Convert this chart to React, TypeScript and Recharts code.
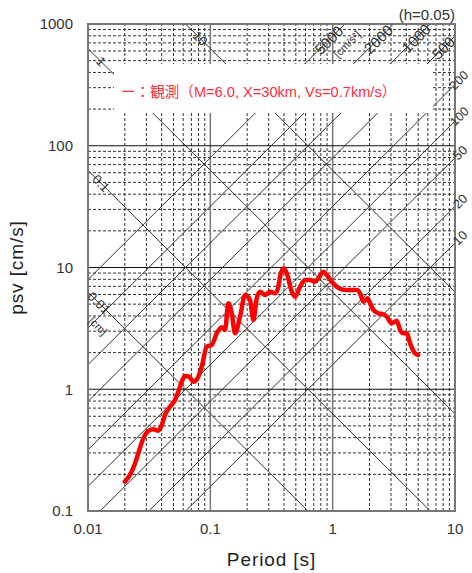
import React from 'react';
import {
  LineChart, Line, XAxis, YAxis, ReferenceLine, ReferenceArea, ReferenceDot
} from 'recharts';

// 観測スペクトル (h=0.05)
const periods = [
  0.02, 0.02205, 0.02423, 0.02578, 0.02833, 0.03112, 0.0342, 0.03757, 0.04005, 0.04262,
  0.04683, 0.05145, 0.05474, 0.05836, 0.06211, 0.06696, 0.07261, 0.07978, 0.08505, 0.09345,
  0.1027, 0.1128, 0.124, 0.1319, 0.1403, 0.1496, 0.1592, 0.1749, 0.1922, 0.2112,
  0.2247, 0.2396, 0.255, 0.2801, 0.3077, 0.3381, 0.3597, 0.3715, 0.3953, 0.4215,
  0.463, 0.4927, 0.5413, 0.5948, 0.6535, 0.7179, 0.764, 0.8395, 0.8952, 0.983,
  1.08, 1.187, 1.304, 1.433, 1.574, 1.675, 1.782, 1.922, 2.022, 2.152,
  2.364, 2.598, 2.77, 3.042, 3.343, 3.557, 3.785, 4.036, 4.295, 4.718, 5.0
];
const psv = [
  0.174, 0.198, 0.246, 0.298, 0.395, 0.454, 0.469, 0.457, 0.508, 0.615,
  0.719, 0.817, 0.955, 1.153, 1.285, 1.268, 1.153, 1.268, 1.531, 2.236,
  2.31, 2.88, 3.23, 3.07, 5.08, 4.21, 2.88, 3.94, 5.94, 5.41,
  3.7, 5.59, 6.33, 5.94, 6.33, 6.14, 6.95, 8.4, 9.85, 8.96,
  6.33, 5.75, 6.95, 7.89, 7.89, 7.64, 8.15, 9.24, 8.68, 7.64,
  6.95, 6.62, 6.53, 6.53, 6.53, 6.14, 5.24, 5.59, 5.08, 4.48,
  4.21, 4.13, 3.94, 3.48, 3.66, 3.07, 2.88, 2.88, 2.38, 1.97, 1.91
];

const xTicks = [0.01, 0.1, 1, 10];
const yTicks = [0.1, 1, 10, 100, 1000];
const minorSteps = [2, 3, 4, 5, 6, 7, 8, 9];

// 変位 [cm] と 加速度 [cm/s2] の斜線
const dispLines = [0.01, 0.1, 1, 10];
const dispLabels = ['0.01', '0.1', '1', '10'];
const dispLabelT = [0.0123, 0.01277, 0.01277, 0.0825];
const accLines = [10, 20, 50, 100, 200, 500, 1000, 2000, 5000];
const accLabels = ['10', '20', '50', '100', '200', '500', '1000', '2000', '5000'];
const accLabelT = [11.0, 11.0, 11.0, 10.9, 10.8, 8.0, 4.8, 2.36, 0.93];
const accLabelSize = [13, 13, 13, 12.5, 12.5, 15, 15, 15, 15];

const legendText = 'ー：観測（M=6.0, X=30km, Vs=0.7km/s）';

const TMIN = 0.01, TMAX = 10, VMIN = 0.1, VMAX = 1000;
const TWO_PI = 2 * Math.PI;

const data = periods.map((T, i) => ({ T, psv: psv[i] }));

const xMinor = [0.01, 0.1, 1].flatMap(d => minorSteps.map(m => +(m * d).toPrecision(3)));
const yMinor = [0.1, 1, 10, 100].flatMap(d => minorSteps.map(m => +(m * d).toPrecision(3)));

// Sv = Sa*T/2π
const accSegment = (sa: number) => {
  const k = sa / TWO_PI;
  const t1 = Math.max(TMIN, VMIN / k);
  const t2 = Math.min(TMAX, VMAX / k);
  return [{ x: t1, y: k * t1 }, { x: t2, y: k * t2 }];
};
// Sv = 2πD/T
const dispSegment = (d: number) => {
  const c = TWO_PI * d;
  const t1 = Math.max(TMIN, c / VMAX);
  const t2 = Math.min(TMAX, c / VMIN);
  return [{ x: t1, y: c / t1 }, { x: t2, y: c / t2 }];
};

const textShape = (txt: string, angle: number, size: number, anchor = 'middle', color = '#333') =>
  (p: any) => (
    <text
      x={p.cx}
      y={p.cy}
      transform={angle ? `rotate(${angle} ${p.cx} ${p.cy})` : undefined}
      textAnchor={anchor}
      dominantBaseline="central"
      fontSize={size}
      fill={color}
    >
      {txt}
    </text>
  );

const font = '"Liberation Sans", Arial, "Noto Sans CJK JP", sans-serif';

export default function App() {
  return (
    <div style={{ width: 472, height: 573, background: '#fff' }}>
      <style>{'body{margin:0;background:#fff}'}</style>
      <LineChart
        width={472}
        height={573}
        data={data}
        margin={{ top: 24, right: 17, bottom: 0, left: 0 }}
        style={{ fontFamily: font }}
      >
        <XAxis
          dataKey="T"
          type="number"
          scale="log"
          domain={[TMIN, TMAX]}
          ticks={xTicks}
          allowDataOverflow
          axisLine={false}
          tickLine={false}
          tickSize={6}
          tickMargin={6}
          height={62}
          tick={{ fill: '#333', fontSize: 15 }}
          label={{ value: 'Period [s]', position: 'insideBottom', offset: 7, fill: '#222', fontSize: 19, letterSpacing: '0.9px' }}
        />
        <YAxis
          type="number"
          scale="log"
          domain={[VMIN, VMAX]}
          ticks={yTicks}
          allowDataOverflow
          axisLine={false}
          tickLine={false}
          tickSize={6}
          tickMargin={9}
          width={88}
          tick={{ fill: '#333', fontSize: 15 }}
          label={{ value: 'psv [cm/s]', angle: -90, position: 'insideLeft', offset: 16, fill: '#222', fontSize: 19, letterSpacing: '0.9px', style: { textAnchor: 'middle' } }}
        />

        {/* 補助目盛 */}
        {xMinor.map(v => (
          <ReferenceLine key={`xm${v}`} x={v} stroke="#333" strokeDasharray="3 2" strokeWidth={1} ifOverflow="visible" zIndex={100} />
        ))}
        {yMinor.map(v => (
          <ReferenceLine key={`ym${v}`} y={v} stroke="#333" strokeDasharray="3 2" strokeWidth={1} ifOverflow="visible" zIndex={100} />
        ))}
        {[0.1, 1].map(v => (
          <ReferenceLine key={`xd${v}`} x={v} stroke="#777" strokeWidth={1.5} ifOverflow="visible" zIndex={100} />
        ))}
        {[1, 10, 100].map(v => (
          <ReferenceLine key={`yd${v}`} y={v} stroke="#111" strokeWidth={1.2} ifOverflow="visible" zIndex={100} />
        ))}

        {/* 斜線 */}
        {accLines.map(sa => (
          <ReferenceLine key={`a${sa}`} segment={accSegment(sa)} stroke="#333" strokeWidth={1} ifOverflow="visible" zIndex={100} />
        ))}
        {dispLines.map(d => (
          <ReferenceLine key={`d${d}`} segment={dispSegment(d)} stroke="#333" strokeWidth={1} ifOverflow="visible" zIndex={100} />
        ))}

        {/* 凡例の白抜き */}
        <ReferenceArea x1={0.01632} x2={6.62} y1={186} y2={469} fill="#fff" fillOpacity={1} stroke="none" ifOverflow="visible" zIndex={200} />
        <ReferenceArea x1={TMIN} x2={TMAX} y1={VMIN} y2={VMAX} fill="none" stroke="#777" strokeWidth={2} ifOverflow="visible" zIndex={300} />

        <Line
          dataKey="psv"
          type="monotone"
          stroke="#ff0000"
          strokeWidth={4.5}
          strokeLinejoin="round"
          strokeLinecap="round"
          dot={false}
          activeDot={false}
          isAnimationActive={false}
          zIndex={400}
        />

        {/* 斜線ラベル */}
        {dispLines.map((d, i) => (
          <ReferenceDot key={`dl${d}`} x={dispLabelT[i]} y={(TWO_PI * d) / dispLabelT[i]} r={1}
            ifOverflow="visible" zIndex={600} shape={textShape(dispLabels[i], 45, 13)} />
        ))}
        <ReferenceDot x={0.0121} y={3.31} r={1} ifOverflow="visible" zIndex={600} shape={textShape('[cm]', 45, 11)} />
        {accLines.map((sa, i) => (
          <ReferenceDot key={`al${sa}`} x={accLabelT[i]} y={(sa * accLabelT[i]) / TWO_PI} r={1}
            ifOverflow="visible" zIndex={600} shape={textShape(accLabels[i], -45, accLabelSize[i])} />
        ))}
        <ReferenceDot x={1.31} y={685} r={1} ifOverflow="visible" zIndex={600} shape={textShape('[cm/s²]', -45, 11)} />

        <ReferenceDot x={0.0186} y={276} r={1} ifOverflow="visible" zIndex={600}
          shape={textShape(legendText, 0, 14.6, 'start', '#ff2d3c')} />
        <ReferenceDot x={TMAX} y={1208} r={1} ifOverflow="visible" zIndex={600}
          shape={textShape('(h=0.05)', 0, 15, 'end', '#333')} />
      </LineChart>
    </div>
  );
}
